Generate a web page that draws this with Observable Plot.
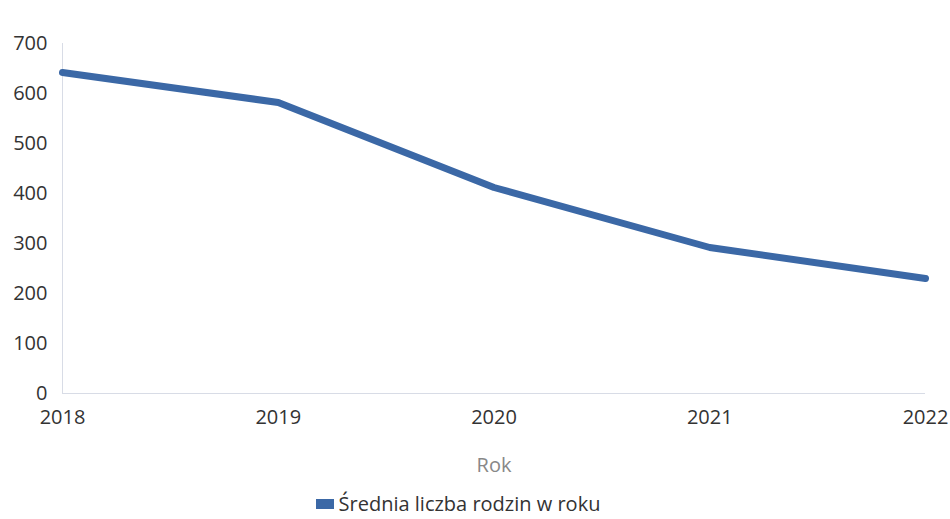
<!DOCTYPE html>
<html>
<head>
<meta charset="utf-8">
<script src="https://cdn.jsdelivr.net/npm/d3@7"></script>
<script src="https://cdn.jsdelivr.net/npm/@observablehq/plot@0.6"></script>
<style>
  body { margin: 0; background: #fff; font-family: "Open Sans", "Noto Sans", sans-serif; }
  #chart svg { display: block; }
  #legend { display: flex; justify-content: center; align-items: center; gap: 5px; font-size: 20px; line-height: 24px; color: #333; padding-right: 34px; }
  #legend .sw { width: 18px; height: 10px; background: #3b68a6; display: inline-block; }
</style>
</head>
<body>
<div id="chart"></div>
<div id="legend"><span class="sw"></span><span id="legendText"></span></div>
<script>
const years = [2018, 2019, 2020, 2021, 2022];
const values = [642, 582, 412, 292, 230];
const yTicks = [0, 100, 200, 300, 400, 500, 600, 700];
const seriesName = "Średnia liczba rodzin w roku";
const xLabel = "Rok";

const data = years.map((y, i) => ({year: y, value: values[i]}));
document.getElementById("legendText").textContent = seriesName;

const chart = Plot.plot({
  width: 950,
  height: 492,
  marginLeft: 62,
  marginRight: 25,
  marginTop: 43,
  marginBottom: 99,
  style: { fontFamily: "'Open Sans', 'Noto Sans', sans-serif", color: "#333", background: "#fff" },
  x: { domain: [2018, 2022] },
  y: { domain: [0, 700] },
  marks: [
    Plot.ruleX([2018], {stroke: "#d8dce6", strokeWidth: 1}),
    Plot.ruleY([0], {stroke: "#d8dce6", strokeWidth: 1}),
    Plot.axisY({ticks: yTicks, tickSize: 0, tickPadding: 15, fontSize: 20, label: null}),
    Plot.axisX({ticks: years, tickFormat: "d", tickSize: 0, tickPadding: 16, fontSize: 20, label: null}),
    Plot.text([xLabel], {frameAnchor: "bottom", lineAnchor: "middle", dy: 72, text: d => d, fontSize: 20, fill: "#888"}),
    Plot.line(data, {x: "year", y: "value", stroke: "#3b68a6", strokeWidth: 7, strokeLinejoin: "round"})
  ]
});
document.getElementById("chart").appendChild(chart);
</script>
</body>
</html>
